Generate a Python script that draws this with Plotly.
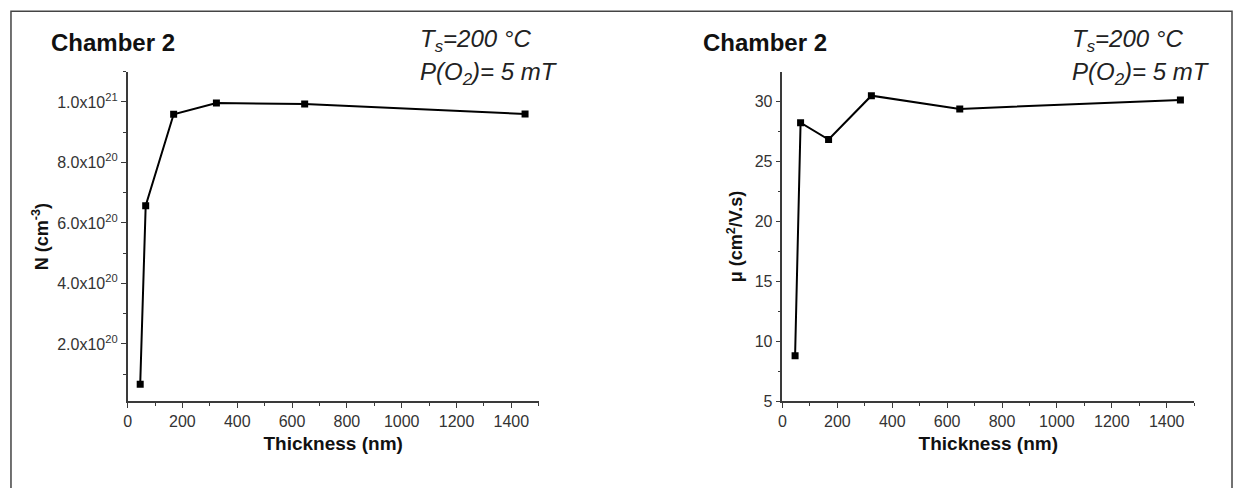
import plotly.graph_objects as go

# Data
thickness_nm = [46, 66, 168, 324, 646, 1450]
carrier_N = [6.7e19, 6.57e20, 9.59e20, 9.96e20, 9.93e20, 9.6e20]
mobility = [8.8, 28.2, 26.8, 30.45, 29.35, 30.1]

n_tickvals = [2e20, 4e20, 6e20, 8e20, 1e21]
n_ticktext = ["2.0x10<sup>20</sup>", "4.0x10<sup>20</sup>", "6.0x10<sup>20</sup>",
              "8.0x10<sup>20</sup>", "1.0x10<sup>21</sup>"]
mu_tickvals = [5, 10, 15, 20, 25, 30]
x_tickvals = [0, 200, 400, 600, 800, 1000, 1200, 1400]

W, H = 1234, 488
FONT = "Liberation Sans, Arial, sans-serif"
AX = "#3a3a3a"
TICKFONT = dict(family=FONT, size=16, color="#333")
TITLEFONT = dict(family=FONT, size=18, color="#111")

fig = go.Figure()
line_style = dict(color="black", width=2)
marker_style = dict(symbol="square", size=7, color="black")

fig.add_trace(go.Scatter(x=thickness_nm, y=carrier_N, mode="lines+markers",
                         line=line_style, marker=marker_style, xaxis="x", yaxis="y",
                         showlegend=False))
fig.add_trace(go.Scatter(x=thickness_nm, y=mobility, mode="lines+markers",
                         line=line_style, marker=marker_style, xaxis="x2", yaxis="y2",
                         showlegend=False))

def xaxis(domain, anchor):
    return dict(domain=domain, anchor=anchor, range=[0, 1500],
                tickmode="array", tickvals=x_tickvals,
                ticks="outside", ticklen=5, tickwidth=1.3, tickcolor=AX,
                minor=dict(tickmode="linear", tick0=0, dtick=100, ticks="outside",
                           ticklen=3, tickwidth=1.3, tickcolor=AX),
                showline=True, linecolor=AX, linewidth=1.5, showgrid=False,
                zeroline=False, mirror=False, tickfont=TICKFONT,
                title=dict(text="<b>Thickness (nm)</b>",
                           font=dict(family=FONT, size=19, color="#111"), standoff=7))

yd = [1 - 409 / H, 1 - 73 / H]
fig.update_layout(
    width=W, height=H, margin=dict(l=0, r=0, t=0, b=0),
    paper_bgcolor="white", plot_bgcolor="white",
    xaxis=xaxis([124 / W, 536.5 / W], "y"),
    xaxis2=xaxis([781 / W, 1194 / W], "y2"),
    yaxis=dict(domain=yd, anchor="x", range=[1e19, 1.1e21],
               tickmode="array", tickvals=n_tickvals, ticktext=n_ticktext,
               ticks="outside", ticklen=5, tickwidth=1.3, tickcolor=AX,
               minor=dict(tickmode="linear", tick0=0, dtick=1e20, ticks="outside",
                          ticklen=3, tickwidth=1.3, tickcolor=AX),
               showline=True, linecolor=AX, linewidth=1.5, showgrid=False,
               zeroline=False, tickfont=TICKFONT,
               title=dict(text="<b>N (cm<sup>-3</sup>)</b>", font=TITLEFONT, standoff=4)),
    yaxis2=dict(domain=yd, anchor="x2", range=[5, 32.45],
                tickmode="array", tickvals=mu_tickvals,
                ticks="outside", ticklen=5, tickwidth=1.3, tickcolor=AX,
                minor=dict(tickmode="linear", tick0=0, dtick=2.5, ticks="outside",
                           ticklen=3, tickwidth=1.3, tickcolor=AX),
                showline=True, linecolor=AX, linewidth=1.5, showgrid=False,
                zeroline=False, tickfont=TICKFONT,
                title=dict(text="<b>\u03bc (cm<sup>2</sup>/V.s)</b>", font=TITLEFONT,
                           standoff=7)),
)

# Frame around the figure (left, top, right edges)
fig.add_shape(type="path", xref="paper", yref="paper",
              path=f"M {7/W} -0.1 L {7/W} {1-11.5/H} L {1232/W} {1-11.5/H} L {1232/W} -0.1",
              line=dict(color="#444", width=1.5))

def texts(x_ch, x_t):
    fig.add_annotation(x=x_ch / W, y=1 - 43 / H, xref="paper", yref="paper",
                       text="<b>Chamber 2</b>", showarrow=False, xanchor="left",
                       yanchor="middle",
                       font=dict(family=FONT, size=24, color="#111"))
    fig.add_annotation(x=x_t / W, y=1 - 41 / H, xref="paper", yref="paper",
                       text="<i>T<sub>s</sub>=200 °C</i>", showarrow=False,
                       xanchor="left", yanchor="middle",
                       font=dict(family=FONT, size=24, color="#222"))
    fig.add_annotation(x=x_t / W, y=1 - 75 / H, xref="paper", yref="paper",
                       text="<i>P(O<sub>2</sub>)= 5 mT</i>", showarrow=False,
                       xanchor="left", yanchor="middle",
                       font=dict(family=FONT, size=24, color="#222"))

texts(45, 415)
texts(699, 1069)

fig.write_html("out.html")
